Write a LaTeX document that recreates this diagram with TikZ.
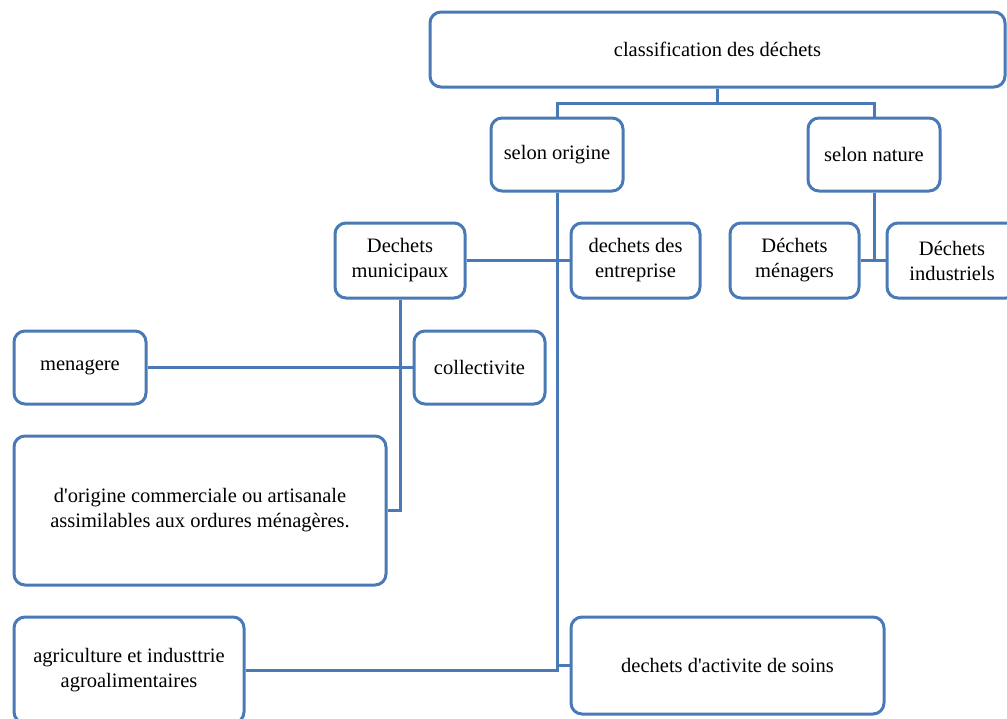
\documentclass[tikz,border=0pt]{standalone}
\usepackage{fontspec}
\setmainfont{Liberation Serif}
\usetikzlibrary{backgrounds}
\begin{document}
\definecolor{frame}{HTML}{4A7AB5}
\begin{tikzpicture}[x=1pt,y=-1pt,
  box/.style={draw=frame, fill=white, line width=3pt, rounded corners=11pt,
    inner sep=0pt, align=center, text=black,
    font=\fontsize{20.5}{25}\selectfont},
  conn/.style={draw=frame, line width=3pt}]
\useasboundingbox (0,0) rectangle (1007,718);

% boxes
\node[box, minimum width=575pt, minimum height=75pt] (top) at (717.5,49.5) {classification des déchets};
\node[box, minimum width=132pt, minimum height=73pt] (origine) at (557,154.5) {selon origine};
\node[box, minimum width=132pt, minimum height=73pt] (nature) at (874,154.5) {selon nature};
\node[box, minimum width=130pt, minimum height=75pt] (muni) at (400,260.5) {Dechets\\municipaux};
\node[box, minimum width=129pt, minimum height=75pt] (entr) at (635.5,260.5) {dechets des\\entreprise};
\node[box, minimum width=129pt, minimum height=75pt] (men) at (794.5,260.5) {Déchets\\ménagers};
\node[box, minimum width=130pt, minimum height=75pt] (ind) at (952,260.5) {Déchets\\industriels};
\node[box, minimum width=132pt, minimum height=73pt] (menag) at (80,367.5) {menagere};
\node[box, minimum width=131pt, minimum height=73pt] (coll) at (479.5,367.5) {collectivite};
\node[box, minimum width=372pt, minimum height=149pt] (comm) at (200,510.5) {d\textquotesingle origine commerciale ou artisanale\\assimilables aux ordures ménagères.};
\node[box, minimum width=230pt, minimum height=106pt] (agri) at (129,670) {agriculture et industtrie\\agroalimentaires};
\node[box, minimum width=313pt, minimum height=97pt] (soins) at (727.5,665.5) {dechets d\textquotesingle activite de soins};

% connectors, kept behind the boxes
\begin{pgfonlayer}{background}
\coordinate (j1) at ([yshift=-15pt]top.south);
\draw[conn] (top.south) -- (j1);
\draw[conn] (origine.north) |- (j1) -| (nature.north);
\draw[conn] (origine.south) |- (agri.east);
\draw[conn] (origine.south) |- (soins.west);
\draw[conn] (muni.east) -- (entr.west);
\draw[conn] (nature.south) -- (nature.south |- men.east);
\draw[conn] (men.east) -- (ind.west);
\draw[conn] (muni.south) |- (comm.east);
\draw[conn] (menag.east) -- (coll.west);
\end{pgfonlayer}
\end{tikzpicture}
\end{document}
